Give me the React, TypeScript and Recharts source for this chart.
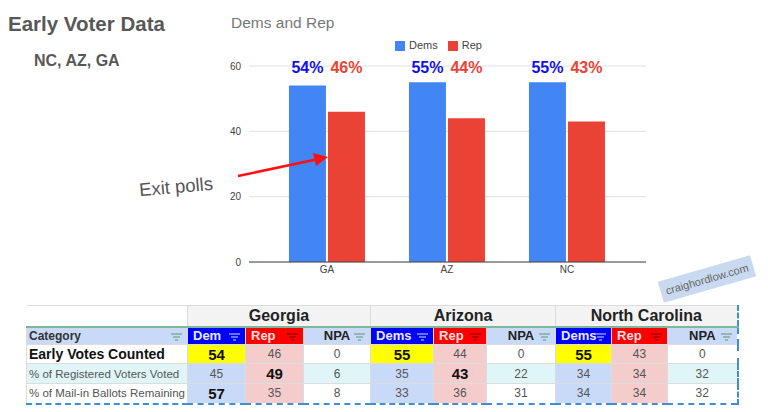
import React from "react";
import {
  BarChart,
  Bar,
  XAxis,
  YAxis,
  CartesianGrid,
  Legend,
  LabelList,
} from "recharts";

// chart values
const stateCodes = ["GA", "AZ", "NC"];
const demsPct = [54, 55, 55];
const repPct = [46, 44, 43];
const yTicks = [0, 20, 40, 60];
const Y_MAX = 60;

// table values
const stateNames = ["Georgia", "Arizona", "North Carolina"];
const partyHeaders = [
  ["Dem", "Rep", "NPA"],
  ["Dems", "Rep", "NPA"],
  ["Dems", "Rep", "NPA"],
];
const rowLabels = [
  "Early Votes Counted",
  "% of Registered Voters Voted",
  "% of Mail-in Ballots Remaining",
];
const georgiaRows = [
  [54, 46, 0],
  [45, 49, 6],
  [57, 35, 8],
];
const arizonaRows = [
  [55, 44, 0],
  [35, 43, 22],
  [33, 36, 31],
];
const carolinaRows = [
  [55, 43, 0],
  [34, 34, 32],
  [34, 34, 32],
];
// which cells are highlighted bold in the sheet
const boldCells = [
  [[true, false, false], [false, true, false], [true, false, false]],
  [[true, false, false], [false, true, false], [false, false, false]],
  [[true, false, false], [false, false, false], [false, false, false]],
];

const chartData = stateCodes.map((s, i) => ({
  name: s,
  Dems: demsPct[i],
  Rep: repPct[i],
}));

const BLUE = "#4285f4";
const RED = "#ea4335";
const FONT = "'Liberation Sans', Arial, sans-serif";

const pctLabel = (color: string) => (props: any) => {
  const { x, y, width, height, value } = props;
  const bottom = Number(y) + Number(height);
  const top = bottom - (Number(height) * Y_MAX) / Number(value);
  return (
    <text
      x={Number(x) + Number(width) / 2}
      y={top + 7}
      textAnchor="middle"
      fill={color}
      fontSize={16}
      fontWeight="bold"
      fontFamily={FONT}
    >
      {value}%
    </text>
  );
};

const Funnel = ({ color }: { color: string }) => (
  <svg
    width="11"
    height="8"
    style={{ position: "absolute", right: 5, top: 5 }}
  >
    <line x1="0" y1="1" x2="11" y2="1" stroke={color} strokeWidth="1.4" />
    <line x1="2" y1="4" x2="9" y2="4" stroke={color} strokeWidth="1.4" />
    <line x1="4" y1="7" x2="7" y2="7" stroke={color} strokeWidth="1.4" />
  </svg>
);

const cellBase: React.CSSProperties = {
  border: "1px solid #dcdcdc",
  padding: 0,
  textAlign: "center",
  position: "relative",
  fontFamily: FONT,
  boxSizing: "border-box",
};

const App = () => {
  const allRows = [georgiaRows, arizonaRows, carolinaRows];
  const colWidths = [161, 58, 58, 67, 63, 53, 69, 56, 56, 70];
  const rowBg = ["#ffffff", "#e0f5f7", "#ffffff"];
  const rowHeights = [19, 20, 20];

  const valueBg = (col: number, row: number) => {
    if (col === 0) return row === 0 ? "#ffff00" : "#c9daf8";
    if (col === 1) return "#f4cccc";
    return rowBg[row];
  };

  return (
    <div
      style={{
        position: "absolute",
        left: 0,
        top: 0,
        width: 768,
        height: 412,
        background: "#fff",
        overflow: "hidden",
        fontFamily: FONT,
      }}
    >
      <div
        style={{
          position: "absolute",
          left: 8,
          top: 12,
          fontSize: 20.5,
          fontWeight: "bold",
          color: "#585858",
        }}
      >
        Early Voter Data
      </div>
      <div
        style={{
          position: "absolute",
          left: 34,
          top: 52,
          fontSize: 16,
          fontWeight: "bold",
          color: "#585858",
        }}
      >
        NC, AZ, GA
      </div>
      <div
        style={{
          position: "absolute",
          left: 231,
          top: 14,
          fontSize: 15.5,
          color: "#777",
        }}
      >
        Dems and Rep
      </div>

      <div style={{ position: "absolute", left: 0, top: 0 }}>
        <BarChart
          width={768}
          height={300}
          data={chartData}
          margin={{ top: 36, right: 122, bottom: 8, left: 209 }}
          barCategoryGap="18.3%"
          barGap={2}
        >
          <CartesianGrid vertical={false} stroke="#e0e0e0" />
          <XAxis
            dataKey="name"
            tickLine={false}
            axisLine={{ stroke: "#444" }}
            tick={{ fontSize: 10, fill: "#444", fontFamily: FONT }}
            tickSize={2}
            height={30}
            padding={{ left: 18, right: 19 }}
          />
          <YAxis
            width={40}
            domain={[0, Y_MAX]}
            ticks={yTicks}
            tickLine={false}
            axisLine={false}
            tick={{ fontSize: 10, fill: "#444", fontFamily: FONT }}
          />
          <Legend
            verticalAlign="top"
            height={27}
            iconType="square"
            iconSize={10}
            wrapperStyle={{ fontSize: 11, fontFamily: FONT, paddingTop: 3, left: 225 }}
            formatter={(v: string) => <span style={{ color: "#444" }}>{v}</span>}
          />
          <Bar dataKey="Dems" fill={BLUE} isAnimationActive={false}>
            <LabelList dataKey="Dems" content={pctLabel("#1111ee")} />
          </Bar>
          <Bar dataKey="Rep" fill={RED} isAnimationActive={false}>
            <LabelList dataKey="Rep" content={pctLabel("#ea4335")} />
          </Bar>
        </BarChart>
      </div>

      {/* annotation */}
      <div
        style={{
          position: "absolute",
          left: 139,
          top: 176,
          fontSize: 18.5,
          color: "#555",
          transform: "rotate(-5deg)",
          transformOrigin: "center",
        }}
      >
        Exit polls
      </div>
      <svg
        width={768}
        height={412}
        style={{ position: "absolute", left: 0, top: 0, pointerEvents: "none" }}
      >
        <line x1={238} y1={176} x2={316} y2={159.5} stroke="#ff1010" strokeWidth={2.5} />
        <polygon points="328,157 313,153 316,166" fill="#ff1010" />
      </svg>

      {/* watermark */}
      <div
        style={{
          position: "absolute",
          left: 659,
          top: 268,
          width: 96,
          height: 22,
          background: "#c9daf0",
          color: "#666",
          fontSize: 11,
          lineHeight: "22px",
          textAlign: "center",
          transform: "rotate(-16deg)",
        }}
      >
        craighordlow.com
      </div>

      {/* sheet table */}
      <table
        style={{
          position: "absolute",
          left: 26,
          top: 305,
          width: 712,
          borderCollapse: "collapse",
          tableLayout: "fixed",
          borderBottom: "2px dashed #3d8fd6",
        }}
      >
        <colgroup>
          {colWidths.map((w, i) => (
            <col key={i} style={{ width: w }} />
          ))}
        </colgroup>
        <tbody>
          <tr style={{ height: 21 }}>
            <td style={{ ...cellBase, borderLeft: "none", background: "#fff" }} />
            {stateNames.map((s, i) => (
              <td
                key={s}
                colSpan={3}
                style={{
                  ...cellBase,
                  background: "#f3f3f3",
                  fontSize: 16,
                  fontWeight: "bold",
                  color: "#222",
                  borderRight: i === 2 ? "2px dashed #3d8fd6" : cellBase.border,
                }}
              >
                {s}
              </td>
            ))}
          </tr>
          <tr style={{ height: 18, borderTop: "2px solid #7fb79a" }}>
            <td
              style={{
                ...cellBase,
                background: "#c9daf8",
                textAlign: "left",
                paddingLeft: 2,
                fontSize: 12,
                fontWeight: "bold",
                color: "#333",
              }}
            >
              Category
              <Funnel color="#7aa89a" />
            </td>
            {partyHeaders.map((hs, si) =>
              hs.map((h, ci) => {
                const bg = ci === 0 ? "#0000ff" : ci === 1 ? "#ff0000" : "#c9daf8";
                const fg = ci === 2 ? "#222" : ci === 1 ? "#ffe0e0" : "#e8ecff";
                const icon = ci === 0 ? "#8fa8ff" : ci === 1 ? "#a00000" : "#7aa89a";
                return (
                  <td
                    key={`${si}-${ci}`}
                    style={{
                      ...cellBase,
                      background: bg,
                      color: fg,
                      fontSize: 13,
                      fontWeight: "bold",
                      textAlign: ci === 2 ? "center" : "left",
                      paddingLeft: ci === 2 ? 0 : 5,
                      borderRight:
                        si === 2 && ci === 2 ? "2px dashed #3d8fd6" : cellBase.border,
                    }}
                  >
                    {h}
                    <Funnel color={icon} />
                  </td>
                );
              })
            )}
          </tr>
          {rowLabels.map((label, r) => (
            <tr key={label} style={{ height: rowHeights[r] }}>
              <td
                style={{
                  ...cellBase,
                  background: rowBg[r],
                  textAlign: "left",
                  paddingLeft: 2,
                  fontSize: r === 0 ? 14 : 11.5,
                  fontWeight: r === 0 ? "bold" : "normal",
                  color: r === 0 ? "#111" : "#555",
                  whiteSpace: "nowrap",
                  overflow: "hidden",
                }}
              >
                {label}
              </td>
              {allRows.map((rows, si) =>
                rows[r].map((v, ci) => {
                  const bold = boldCells[si][r][ci];
                  return (
                    <td
                      key={`${si}-${ci}`}
                      style={{
                        ...cellBase,
                        background: valueBg(ci, r),
                        fontSize: bold ? 15 : 12,
                        fontWeight: bold ? "bold" : "normal",
                        color: bold ? "#111" : "#555",
                        borderRight:
                          si === 2 && ci === 2 ? "2px dashed #3d8fd6" : cellBase.border,
                      }}
                    >
                      {v}
                    </td>
                  );
                })
              )}
            </tr>
          ))}
        </tbody>
      </table>
    </div>
  );
};

export default App;
